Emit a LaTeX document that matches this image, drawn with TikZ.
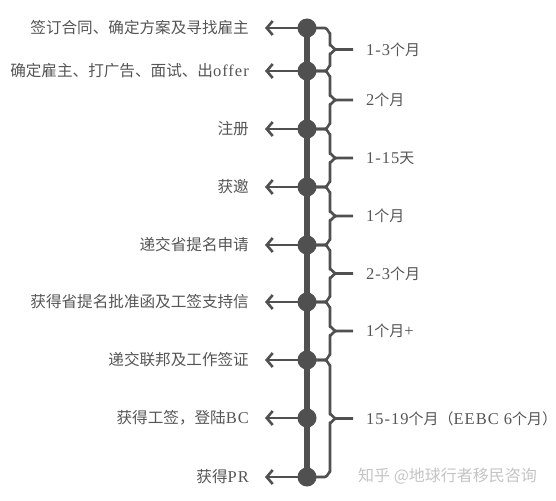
\documentclass[tikz,border=0pt]{standalone}
\usepackage{fontspec}
\setmainfont{Noto Sans CJK SC}
\newfontfamily\lat[LetterSpace=6]{Liberation Serif}
\newcommand\latn[1]{{\lat\fontsize{16.5}{17}\selectfont #1}}
\usetikzlibrary{arrows.meta}
\definecolor{ln}{HTML}{505050}
\definecolor{tx}{HTML}{555555}
\definecolor{wm}{HTML}{C4C4C4}
\begin{document}
\begin{tikzpicture}[x=1pt,y=-1pt,
  dot/.style={circle,fill=ln,minimum size=19pt,inner sep=0pt},
  lab/.style={anchor=east,text=tx,font=\fontsize{15.6}{17}\selectfont,inner sep=0pt},
  dur/.style={anchor=west,text=tx,font=\fontsize{15}{17}\selectfont,inner sep=0pt},
  arr/.style={draw=ln,line width=2.8pt,-{Straight Barb[length=6pt,width=14pt,line width=2.6pt]}},
  brc/.style={draw=ln,line width=2.6pt,line join=round},
  spine/.style={draw=ln,line width=6.5pt}]
\useasboundingbox (0,0) rectangle (556,500);
% spine
\coordinate (top) at (307,28);
\coordinate (bot) at (307,477);
\draw[spine] (top) -- (bot);
% dots
\foreach \i/\y in {1/28,2/71,3/129,4/187,5/245,6/302,7/360,8/418,9/477}{
  \node[dot] (d\i) at (307,\y) {};
  \coordinate (a\i) at (265,\y);
  \draw[arr] (d\i.center) -- (a\i);
}
% labels
\node[lab] (L1) at (249,28) {签订合同、确定方案及寻找雇主};
\node[lab] (L2) at (249,71) {确定雇主、打广告、面试、出\latn{offer}};
\node[lab] (L3) at (249,129) {注册};
\node[lab] (L4) at (249,187) {获邀};
\node[lab] (L5) at (249,245) {递交省提名申请};
\node[lab] (L6) at (249,302) {获得省提名批准函及工签支持信};
\node[lab] (L7) at (249,360) {递交联邦及工作签证};
\node[lab] (L8) at (249,418) {获得工签，登陆\latn{BC}};
\node[lab] (L9) at (249,477) {获得\latn{PR}};
% braces
\foreach \a/\b in {28/71,71/129,129/187,187/245,245/302,302/360,360/477}{
  \pgfmathsetmacro{\m}{(\a+\b)/2}
  \draw[brc] (314,\a) -- (325,\a) to[out=0,in=-90] (330,\a+5) -- (330,\m-4) to[out=90,in=180] (336,\m) -- (353,\m);
  \draw[brc] (314,\b) -- (325,\b) to[out=0,in=90] (330,\b-5) -- (330,\m+4) to[out=-90,in=180] (336,\m);
}
\node[dur] (B1) at (366,49.5) {\latn{1-3}个月};
\node[dur] (B2) at (366,100) {\latn{2}个月};
\node[dur] (B3) at (366,158) {\latn{1-15}天};
\node[dur] (B4) at (366,216) {\latn{1}个月};
\node[dur] (B5) at (366,273.5) {\latn{2-3}个月};
\node[dur] (B6) at (366,331) {\latn{1}个月\latn{+}};
\node[dur] (B7) at (366,418.5) {\latn{15-19}个月（\latn{EEBC 6}个月）};
\node[anchor=west,text=wm,font=\fontsize{16}{17}\selectfont,inner sep=0pt] (W) at (358,476) {知乎 @地球行者移民咨询};
\end{tikzpicture}
\end{document}
